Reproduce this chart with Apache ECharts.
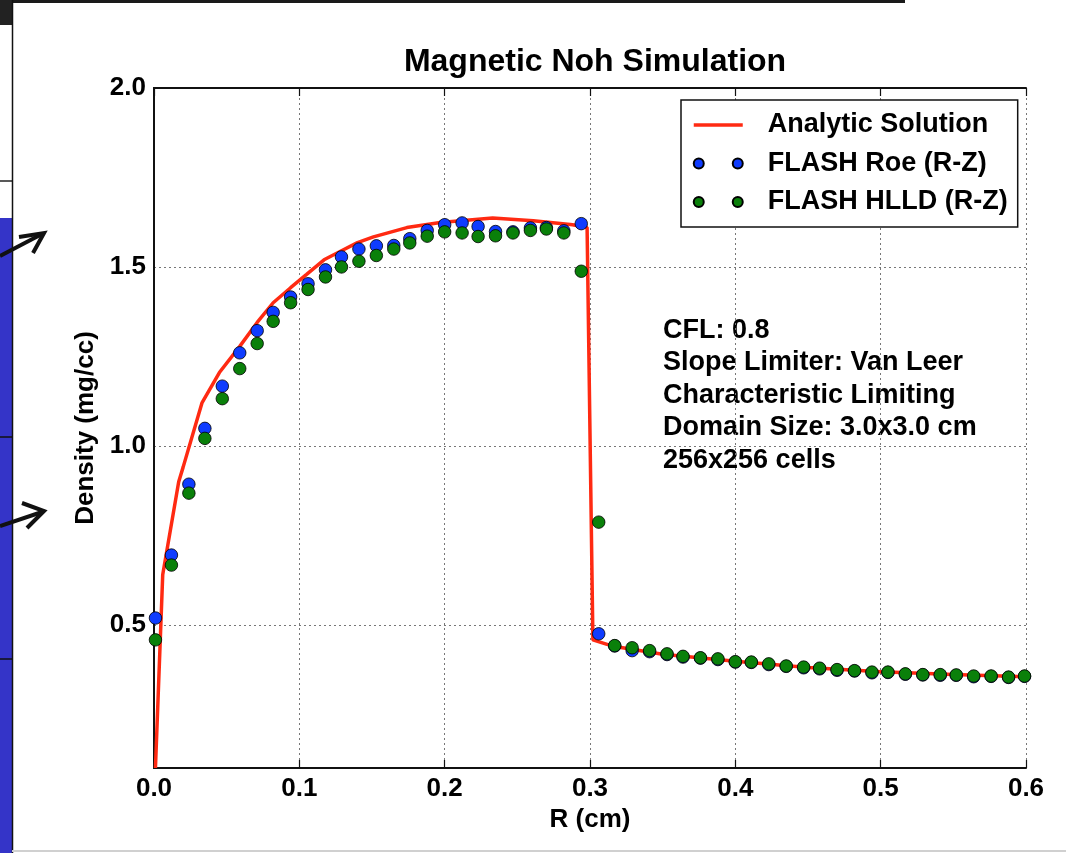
<!DOCTYPE html>
<html>
<head>
<meta charset="utf-8">
<title>Magnetic Noh Simulation</title>
<script src="https://cdn.jsdelivr.net/npm/echarts@6/dist/echarts.min.js"></script>
<style>
  html, body { margin: 0; padding: 0; background: #fff; }
  #main { width: 1066px; height: 853px; }
</style>
</head>
<body>
<div id="main"></div>
<script>
// cell radius (cm), one dot per cell
var rCells = [0.001, 0.012, 0.024, 0.035, 0.047, 0.059, 0.071, 0.082, 0.094, 0.106,
  0.118, 0.129, 0.141, 0.153, 0.165, 0.176, 0.188, 0.200, 0.212, 0.223,
  0.235, 0.247, 0.259, 0.270, 0.282, 0.294, 0.306, 0.317, 0.329, 0.341,
  0.353, 0.364, 0.376, 0.388, 0.400, 0.411, 0.423, 0.435, 0.447, 0.458,
  0.470, 0.482, 0.494, 0.505, 0.517, 0.529, 0.541, 0.552, 0.564, 0.576,
  0.588, 0.599];

var roeDensity = [0.519, 0.695, 0.893, 1.049, 1.167, 1.260, 1.322, 1.373, 1.416, 1.453,
  1.492, 1.528, 1.550, 1.559, 1.560, 1.579, 1.602, 1.618, 1.623, 1.613,
  1.599, 1.598, 1.609, 1.610, 1.601, 1.621, 0.475, 0.441, 0.428, 0.425,
  0.417, 0.410, 0.407, 0.403, 0.396, 0.395, 0.389, 0.384, 0.380, 0.377,
  0.373, 0.371, 0.366, 0.367, 0.362, 0.360, 0.359, 0.359, 0.355, 0.356,
  0.353, 0.356];

var hlldDensity = [0.458, 0.667, 0.868, 1.021, 1.132, 1.216, 1.286, 1.348, 1.400, 1.437,
  1.472, 1.500, 1.516, 1.532, 1.550, 1.567, 1.586, 1.598, 1.595, 1.585,
  1.587, 1.595, 1.602, 1.606, 1.595, 1.488, 0.787, 0.442, 0.436, 0.428,
  0.419, 0.412, 0.408, 0.405, 0.397, 0.396, 0.391, 0.385, 0.382, 0.379,
  0.375, 0.372, 0.368, 0.368, 0.363, 0.361, 0.361, 0.360, 0.357, 0.357,
  0.354, 0.357];

var analyticR = [0.001, 0.006, 0.017, 0.020, 0.033, 0.045, 0.059, 0.071, 0.082, 0.094,
  0.105, 0.117, 0.128, 0.140, 0.151, 0.174, 0.197, 0.233, 0.261, 0.288,
  0.298, 0.302, 0.315, 0.350, 0.400, 0.450, 0.500, 0.550, 0.600];
var analyticDensity = [0.10, 0.64, 0.90, 0.94, 1.12, 1.205, 1.278, 1.345, 1.400, 1.442,
  1.479, 1.520, 1.543, 1.568, 1.584, 1.610, 1.624, 1.637, 1.629, 1.618,
  1.610, 0.458, 0.441, 0.418, 0.398, 0.381, 0.369, 0.361, 0.355];

var yTicks = [0.5, 1.0, 1.5, 2.0];
var seriesNames = ['Analytic Solution', 'FLASH Roe (R-Z)', 'FLASH HLLD (R-Z)'];
var noteLines = ['CFL: 0.8', 'Slope Limiter: Van Leer', 'Characteristic Limiting',
  'Domain Size: 3.0x3.0 cm', '256x256 cells'];

function pairs(xs, ys) {
  return xs.map(function (x, i) { return [x, ys[i]]; });
}

var FONT = "'Liberation Sans', Arial, Helvetica, sans-serif";
var twoDots = 'path://M0,5A5,5,0,1,0,10,5A5,5,0,1,0,0,5ZM39,5A5,5,0,1,0,49,5A5,5,0,1,0,39,5Z';

var chart = echarts.init(document.getElementById('main'));

var option = {
  backgroundColor: '#fff',
  animation: false,
  textStyle: { fontFamily: FONT },
  title: {
    text: 'Magnetic Noh Simulation',
    left: 590,
    top: 41,
    textAlign: 'center',
    textStyle: { fontSize: 32, fontWeight: 'bold', color: '#000', fontFamily: FONT }
  },
  legend: {
    orient: 'vertical',
    left: 681,
    top: 100,
    padding: [11, 10, 11, 11],
    itemGap: 10.5,
    itemWidth: 49,
    itemHeight: 10,
    borderColor: '#111',
    borderWidth: 1.5,
    backgroundColor: '#fff',
    selectedMode: false,
    textStyle: {
      fontSize: 27, fontWeight: 'bold', color: '#000', fontFamily: FONT,
      lineHeight: 28, padding: [0, 0, 0, 20]
    },
    data: [
      { name: seriesNames[0], lineStyle: { width: 3.5 } },
      { name: seriesNames[1], icon: twoDots },
      { name: seriesNames[2], icon: twoDots }
    ]
  },
  grid: { left: 154, right: 40, top: 88, bottom: 85, show: false },
  xAxis: [{
    type: 'value',
    min: 0,
    max: 0.6,
    interval: 0.1,
    name: 'R (cm)',
    nameLocation: 'middle',
    nameGap: 37,
    nameTextStyle: { fontSize: 26, fontWeight: 'bold', color: '#000', fontFamily: FONT },
    axisLine: { lineStyle: { color: '#111', width: 2 } },
    axisTick: { inside: true, length: 8, lineStyle: { color: '#111', width: 1.2 } },
    axisLabel: {
      margin: 8, fontSize: 26, fontWeight: 'bold', color: '#000', fontFamily: FONT,
      formatter: function (v) { return v.toFixed(1); }
    },
    splitLine: { show: true, lineStyle: { color: '#777', width: 1, type: [2, 3] } }
  }, {
    type: 'value',
    position: 'top',
    min: 0,
    max: 0.6,
    interval: 0.1,
    axisLine: { lineStyle: { color: '#111', width: 2 } },
    axisTick: { inside: true, length: 8, lineStyle: { color: '#111', width: 1.2 } },
    axisLabel: { show: false },
    splitLine: { show: false }
  }],
  yAxis: [{
    type: 'value',
    min: 0.1,
    max: 2.0,
    name: 'Density (mg/cc)',
    nameLocation: 'middle',
    nameGap: 55,
    nameTextStyle: { fontSize: 26, fontWeight: 'bold', color: '#000', fontFamily: FONT },
    axisLine: { show: true, lineStyle: { color: '#111', width: 2 } },
    // custom ticks would stick out past the labels, the dotted grid marks them instead
    axisTick: { show: false, customValues: yTicks },
    axisLabel: {
      margin: 8, fontSize: 26, fontWeight: 'bold', color: '#000', fontFamily: FONT,
      customValues: yTicks,
      formatter: function (v) { return v.toFixed(1); }
    },
    splitLine: { show: true, lineStyle: { color: '#777', width: 1, type: [2, 3] } }
  }, {
    type: 'value',
    position: 'right',
    min: 0.1,
    max: 2.0,
    axisLine: { show: true, lineStyle: { color: '#111', width: 2 } },
    axisTick: { show: false },
    axisLabel: { show: false },
    splitLine: { show: false }
  }],
  series: [{
    name: seriesNames[0],
    type: 'line',
    data: pairs(analyticR, analyticDensity),
    symbol: 'none',
    itemStyle: { color: 'rgba(0,0,0,0)' },
    lineStyle: { color: '#ff2a12', width: 3.5 },
    z: 2
  }, {
    name: seriesNames[1],
    type: 'scatter',
    data: pairs(rCells, roeDensity),
    symbolSize: 12.5,
    itemStyle: { color: '#0f3cff', borderColor: '#000', borderWidth: 0.8, opacity: 1 },
    z: 3
  }, {
    name: seriesNames[2],
    type: 'scatter',
    data: pairs(rCells, hlldDensity),
    symbolSize: 12.5,
    itemStyle: { color: '#0a800a', borderColor: '#000', borderWidth: 0.8, opacity: 1 },
    z: 4
  }],
  graphic: [
    // screenshot frame around the figure
    { type: 'rect', shape: { x: 0, y: 0, width: 905, height: 3 }, style: { fill: '#1a1a1a' }, silent: true },
    { type: 'rect', shape: { x: 0, y: 0, width: 12, height: 25 }, style: { fill: '#222' }, silent: true },
    { type: 'rect', shape: { x: 0, y: 218, width: 12, height: 635 }, style: { fill: '#3434c8' }, silent: true },
    { type: 'line', shape: { x1: 0, y1: 181, x2: 12, y2: 181 }, style: { stroke: '#222', lineWidth: 1.5 }, silent: true },
    { type: 'line', shape: { x1: 0, y1: 437, x2: 12, y2: 437 }, style: { stroke: '#111', lineWidth: 1.5 }, silent: true },
    { type: 'line', shape: { x1: 0, y1: 659, x2: 12, y2: 659 }, style: { stroke: '#111', lineWidth: 1.5 }, silent: true },
    { type: 'line', shape: { x1: 12.5, y1: 0, x2: 12.5, y2: 853 }, style: { stroke: '#111', lineWidth: 1.5 }, silent: true },
    { type: 'line', shape: { x1: 12, y1: 851, x2: 1066, y2: 851 }, style: { stroke: '#d0d0d0', lineWidth: 2 }, silent: true },
    { type: 'polyline', shape: { points: [[0, 256], [42, 234]] }, style: { stroke: '#111', lineWidth: 4, fill: null }, silent: true },
    { type: 'polyline', shape: { points: [[19, 237], [44, 233], [33, 253]] }, style: { stroke: '#111', lineWidth: 4, fill: null }, silent: true },
    { type: 'polyline', shape: { points: [[0, 526], [42, 512]] }, style: { stroke: '#111', lineWidth: 4, fill: null }, silent: true },
    { type: 'polyline', shape: { points: [[22, 503], [44, 511], [27, 528]] }, style: { stroke: '#111', lineWidth: 4, fill: null }, silent: true },
    // run parameters
    {
      type: 'text',
      left: 663,
      top: 314,
      silent: true,
      style: {
        text: noteLines.join('\n'),
        font: 'bold 27px ' + FONT,
        lineHeight: 32.5,
        fill: '#000'
      }
    }
  ]
};

chart.setOption(option);
window.addEventListener('resize', function () {
  chart.resize();
});
</script>
</body>
</html>
